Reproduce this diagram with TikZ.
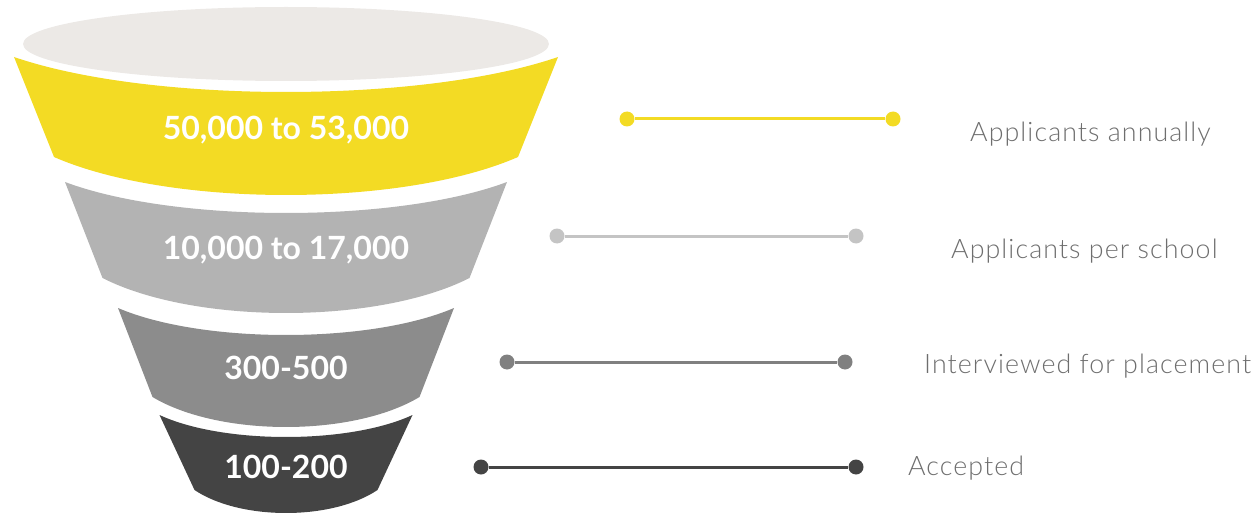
\documentclass[tikz,border=0pt]{standalone}
\usepackage{fontspec}
\setmainfont{Lato}
\newfontfamily\lightfont{Lato Light}[LetterSpace=4]
\definecolor{topgray}{HTML}{ECE9E6}
\definecolor{fyellow}{HTML}{F3DB24}
\definecolor{fgrayA}{HTML}{B3B3B3}
\definecolor{fgrayB}{HTML}{8C8C8C}
\definecolor{fgrayC}{HTML}{444444}
\definecolor{lgrayA}{HTML}{C4C4C4}
\definecolor{lgrayB}{HTML}{808080}
\definecolor{labelgray}{HTML}{6E6E6E}
\newcommand{\fband}[7]{%
  \fill[#1] ({286-#3},#2) .. controls ({286-0.5*#3},{#2+1.333*#4}) and ({286+0.5*#3},{#2+1.333*#4}) .. ({286+#3},#2)
    -- ({286+#6},#5) .. controls ({286+0.5*#6},{#5+1.333*#7}) and ({286-0.5*#6},{#5+1.333*#7}) .. ({286-#6},#5) -- cycle;}
\tikzset{
  numtext/.style={text=white, font=\fontsize{32}{36}\selectfont\bfseries},
  dotnode/.style={circle, inner sep=0pt, minimum size=15pt},
  barline/.style={line width=3pt},
  labeltext/.style={text=labelgray, font=\lightfont\fontsize{26.8}{30}\selectfont, anchor=base west, inner sep=0pt}
}
\begin{document}
\begin{tikzpicture}[x=1pt,y=-1pt]
\useasboundingbox (0,0) rectangle (1253,516);
% funnel
\fill[topgray] (286,44) ellipse [x radius=263pt, y radius=37pt];
\fband{fyellow}{57}{272}{35}{157}{232}{38}
\fband{fgrayA}{182}{221}{31}{278}{183.5}{35}
\fband{fgrayB}{308}{168}{27}{397}{133.5}{30}
\fband{fgrayC}{415}{126.5}{22}{490}{91.5}{23}
\node[numtext] (n1) at (286,130) {50,000 to 53,000};
\node[numtext] (n2) at (286,250) {10,000 to 17,000};
\node[numtext] (n3) at (286,368) {300-500};
\node[numtext] (n4) at (286,467) {100-200};
% connectors
\node[dotnode, fill=fyellow] (a1) at (627,119) {};
\node[dotnode, fill=fyellow] (b1) at (893,119) {};
\draw[barline, fyellow] (a1) -- (b1);
\node[dotnode, fill=lgrayA] (a2) at (557,236) {};
\node[dotnode, fill=lgrayA] (b2) at (856,236) {};
\draw[barline, lgrayA] (a2) -- (b2);
\node[dotnode, fill=lgrayB] (a3) at (507,362) {};
\node[dotnode, fill=lgrayB] (b3) at (845,362) {};
\draw[barline, lgrayB] (a3) -- (b3);
\node[dotnode, fill=fgrayC] (a4) at (481,467) {};
\node[dotnode, fill=fgrayC] (b4) at (856,467) {};
\draw[barline, fgrayC] (a4) -- (b4);
% labels
\node[labeltext] (l1) at (970,142) {Applicants annually};
\node[labeltext] (l2) at (951,258) {Applicants per school};
\node[labeltext] (l3) at (924,373) {Interviewed for placement};
\node[labeltext] (l4) at (908,475) {Accepted};
\end{tikzpicture}
\end{document}
